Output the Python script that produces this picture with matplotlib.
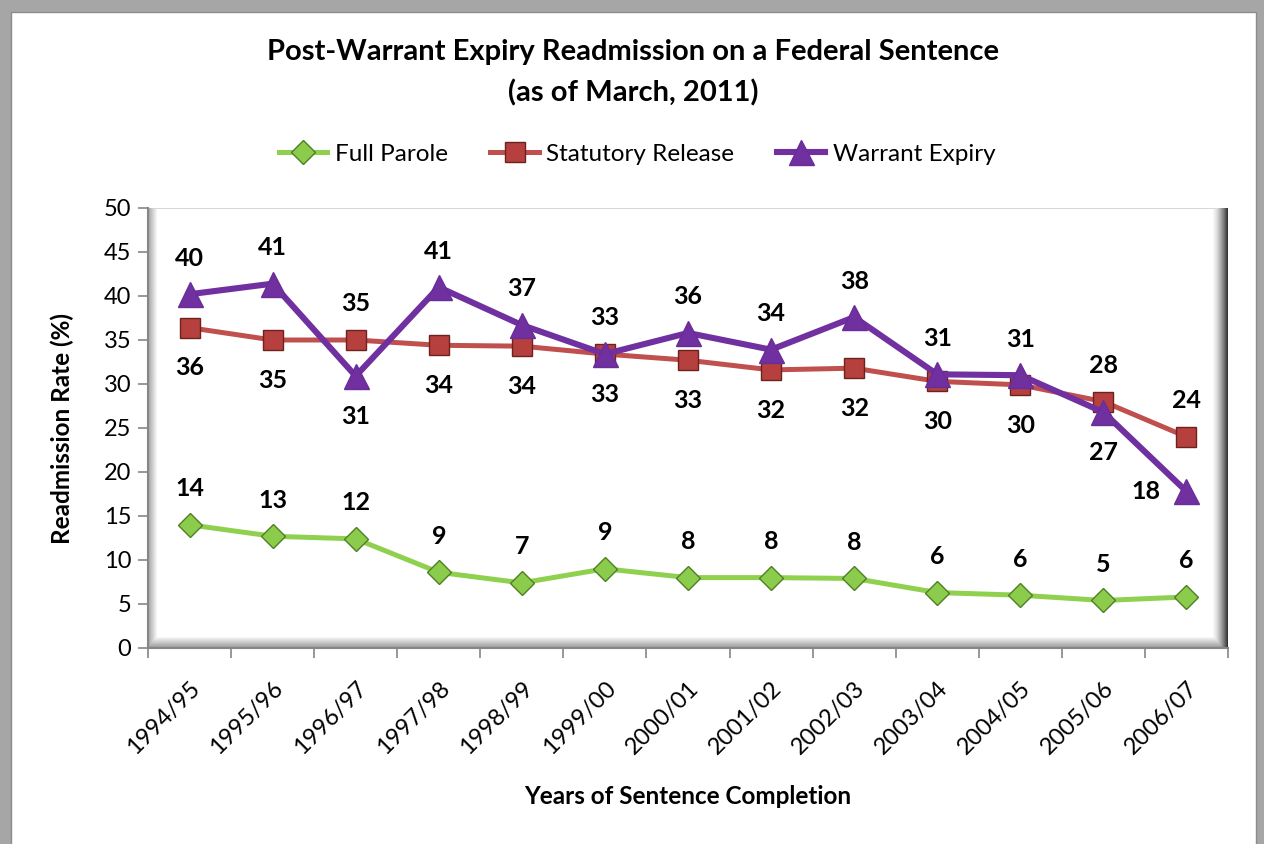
import matplotlib.pyplot as plt
import numpy as np
from matplotlib.patches import Rectangle

plt.rcParams['font.family'] = ['Lato', 'DejaVu Sans']

# ---- data ----
years = ['1994/95', '1995/96', '1996/97', '1997/98', '1998/99', '1999/00', '2000/01',
         '2001/02', '2002/03', '2003/04', '2004/05', '2005/06', '2006/07']
full_parole = [14.0, 12.7, 12.4, 8.6, 7.4, 9.0, 8.0, 8.0, 7.9, 6.3, 6.0, 5.4, 5.8]
statutory = [36.4, 35.0, 35.0, 34.4, 34.3, 33.4, 32.7, 31.6, 31.8, 30.3, 29.9, 28.0, 24.0]
warrant = [40.2, 41.4, 30.9, 41.0, 36.7, 33.4, 35.8, 33.9, 37.6, 31.1, 31.0, 26.8, 17.8]

# where each data label sits
fp_pos = ['above'] * 13
sr_pos = ['below', 'below', 'above', 'below', 'below', 'below', 'below',
          'below', 'below', 'below', 'below', 'above', 'above']
we_pos = ['above', 'above', 'below', 'above', 'above', 'above', 'above',
          'above', 'above', 'above', 'above', 'below', 'left']

fig = plt.figure(figsize=(12.64, 8.44), dpi=100)
fig.patch.set_facecolor('#a6a6a6')
# white chart area inside the grey frame
fig.patches.append(Rectangle((11 / 1264, -0.05), (1256 - 11) / 1264, (844 - 12) / 844 + 0.05,
                             transform=fig.transFigure, facecolor='white',
                             edgecolor='#8c8c8c', lw=1, zorder=-5))

ax = fig.add_axes([148 / 1264, (844 - 648) / 844, (1228 - 148) / 1264, 440 / 844])
ax.set_facecolor('white')

# bevel shading of the plot area
H, W = 440, 1080
yy, xx = np.mgrid[0:H, 0:W]
a_l = np.clip(1 - xx / 9.0, 0, 1) * 0.40
a_r = np.clip(1 - (W - 1 - xx) / 16.0, 0, 1) ** 1.6 * 0.9
a_b = np.clip(1 - (H - 1 - yy) / 11.0, 0, 1) * 0.45
a_t = (yy < 2) * 0.18
alpha = np.maximum.reduce([a_l, a_r, a_b, a_t])
img = np.zeros((H, W, 4))
img[..., :3] = 0.12
img[..., 3] = alpha
ax.imshow(img, extent=[0, 1, 0, 1], transform=ax.transAxes, aspect='auto',
          zorder=0.5, interpolation='bilinear')

x = np.arange(len(years))

ax.plot(x, full_parole, color='#8fd14f', lw=3.6, marker='D', ms=12,
        mfc='#8ccc4c', mec='#4f7f22', mew=1, zorder=3, label='Full Parole')
ax.plot(x, statutory, color='#c0504d', lw=3.6, marker='s', ms=15,
        mfc='#b5403d', mec='#6e2220', mew=1, zorder=4, label='Statutory Release')
ax.plot(x, warrant, color='#7030a0', lw=4.4, marker='^', ms=18,
        mfc='#7030a0', mec='#6a2d98', mew=1, zorder=5, label='Warrant Expiry')

offs = {'above': (0, 26), 'below': (0, -29), 'left': (-29, 0)}
for vals, pos in [(full_parole, fp_pos), (statutory, sr_pos), (warrant, we_pos)]:
    for i, v in enumerate(vals):
        ax.annotate('%.0f' % v, (x[i], v), xytext=offs[pos[i]], textcoords='offset points',
                    ha='center', va='center', fontsize=18, fontweight='bold', zorder=6)

ax.set_xlim(-0.5, len(years) - 0.5)
ax.set_ylim(0, 50)
ax.set_yticks(np.arange(0, 51, 5))
ax.set_xticks(x)
ax.set_xticks(np.arange(-0.5, len(years), 1), minor=True)
ax.set_xticklabels(years, rotation=45, ha='right', rotation_mode='anchor', fontsize=17)
ax.tick_params(axis='x', which='major', length=0, pad=21)
ax.tick_params(axis='x', which='minor', length=7, color='#868686', width=1.2)
ax.tick_params(axis='y', length=7, color='#868686', width=1.2, labelsize=17, pad=5)

for s in ['top', 'right']:
    ax.spines[s].set_visible(False)
for s in ['left', 'bottom']:
    ax.spines[s].set_color('#868686')
    ax.spines[s].set_linewidth(1.5)

fig.text(633 / 1264, 1 - 52 / 844, 'Post-Warrant Expiry Readmission on a Federal Sentence',
         ha='center', va='center', fontsize=21, fontweight='bold')
fig.text(633 / 1264, 1 - 93 / 844, '(as of March, 2011)',
         ha='center', va='center', fontsize=21, fontweight='bold')
fig.text(62 / 1264, 1 - 428 / 844, 'Readmission Rate (%)', rotation=90,
         ha='center', va='center', fontsize=17.5, fontweight='bold')
fig.text(688 / 1264, 1 - 797 / 844, 'Years of Sentence Completion',
         ha='center', va='center', fontsize=17.5, fontweight='bold')

fig.legend(loc='center', bbox_to_anchor=(637 / 1264, 1 - 154 / 844), ncol=3,
           frameon=False, fontsize=17.5, handlelength=2.0, columnspacing=1.75,
           handletextpad=0.3)

fig.savefig('out.png', dpi=100, facecolor=fig.get_facecolor())
